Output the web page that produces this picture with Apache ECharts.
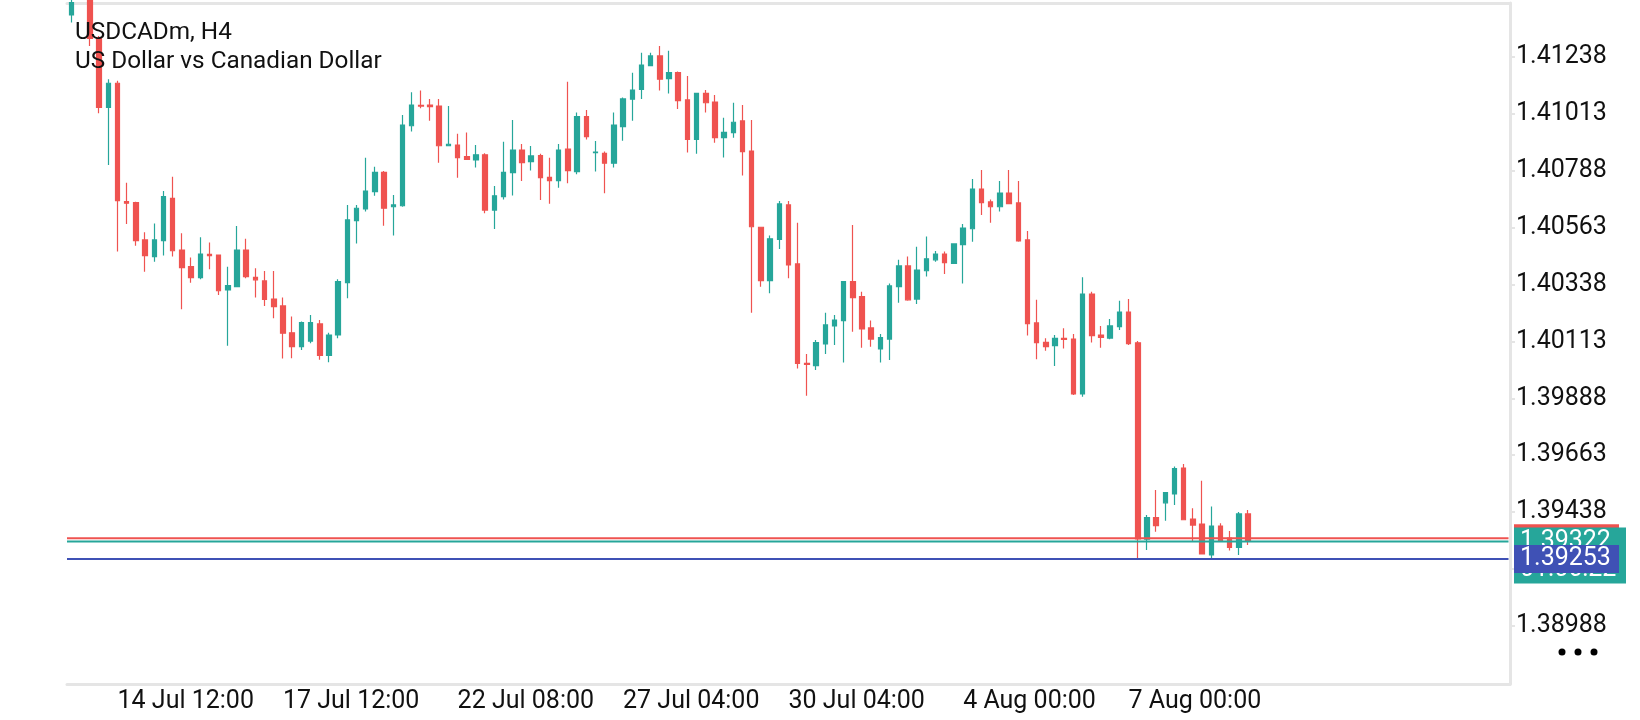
<!DOCTYPE html>
<html>
<head>
<meta charset="UTF-8">
<title>USDCADm, H4</title>
<script src="https://cdn.jsdelivr.net/npm/echarts@6.0.0/dist/echarts.min.js"></script>
<style>
    html, body {
        margin: 0;
        padding: 0;
        background: #ffffff;
    }
    #chart {
        width: 1640px;
        height: 720px;
    }
</style>
</head>
<body>
<div id="chart"></div>
<script>
// H4 candles (bar 1 sits above the visible range)
const opens = [
    1.41403, 1.41470, 1.41495, 1.41310, 1.41038, 1.41133, 1.40665, 1.40661, 1.40514, 1.40448,
    1.40511, 1.40678, 1.40474, 1.40408, 1.40365, 1.40457, 1.40454, 1.40316, 1.40329, 1.40474,
    1.40366, 1.40352, 1.40280, 1.40253, 1.40147, 1.40092, 1.40114, 1.40182, 1.40057, 1.40138,
    1.40345, 1.40590, 1.40636, 1.40705, 1.40781, 1.40645, 1.40649, 1.40965, 1.41046, 1.41047,
    1.41043, 1.40886, 1.40889, 1.40843, 1.40830, 1.40850, 1.40632, 1.40685, 1.40780, 1.40869,
    1.40823, 1.40847, 1.40761, 1.40748, 1.40873, 1.40784, 1.41001, 1.40859, 1.40856, 1.40817,
    1.40962, 1.41070, 1.41109, 1.41203, 1.41241, 1.41151, 1.41175, 1.41067, 1.40911, 1.41093,
    1.41059, 1.40918, 1.40938, 1.40984, 1.40865, 1.40564, 1.40353, 1.40516, 1.40652, 1.40419,
    1.40026, 1.40017, 1.40103, 1.40174, 1.40195, 1.40349, 1.40290, 1.40166, 1.40083, 1.40122,
    1.40329, 1.40411, 1.40280, 1.40392, 1.40435, 1.40458, 1.40421, 1.40495, 1.40558, 1.40715,
    1.40664, 1.40645, 1.40699, 1.40660, 1.40514, 1.40186, 1.40109, 1.40096, 1.40125, 1.40122,
    1.39905, 1.40300, 1.40138, 1.40126, 1.40171, 1.40229, 1.40107, 1.39331, 1.39416, 1.39475,
    1.39510, 1.39612, 1.39411, 1.39391, 1.39269, 1.39383, 1.39335, 1.39299, 1.39431
];
const highs = [
    1.41470, 1.41530, 1.41510, 1.41320, 1.41149, 1.41143, 1.40740, 1.40665, 1.40544, 1.40579,
    1.40707, 1.40764, 1.40540, 1.40444, 1.40524, 1.40504, 1.40456, 1.40408, 1.40569, 1.40518,
    1.40402, 1.40391, 1.40391, 1.40286, 1.40211, 1.40191, 1.40217, 1.40197, 1.40147, 1.40358,
    1.40652, 1.40652, 1.40839, 1.40803, 1.40786, 1.40691, 1.41008, 1.41097, 1.41104, 1.41071,
    1.41071, 1.41043, 1.40933, 1.40938, 1.40889, 1.40856, 1.40727, 1.40902, 1.40988, 1.40893,
    1.40885, 1.40854, 1.40839, 1.40893, 1.41139, 1.41017, 1.41027, 1.40905, 1.40863, 1.41017,
    1.41077, 1.41175, 1.41254, 1.41254, 1.41280, 1.41261, 1.41179, 1.41162, 1.41095, 1.41106,
    1.41087, 1.40997, 1.41056, 1.41047, 1.40988, 1.40566, 1.40531, 1.40668, 1.40668, 1.40582,
    1.40063, 1.40118, 1.40226, 1.40217, 1.40352, 1.40573, 1.40309, 1.40195, 1.40142, 1.40342,
    1.40435, 1.40448, 1.40487, 1.40527, 1.40470, 1.40468, 1.40500, 1.40577, 1.40755, 1.40790,
    1.40674, 1.40747, 1.40790, 1.40747, 1.40549, 1.40277, 1.40125, 1.40138, 1.40165, 1.40142,
    1.40366, 1.40309, 1.40174, 1.40201, 1.40273, 1.40280, 1.40114, 1.39427, 1.39526, 1.39515,
    1.39618, 1.39628, 1.39453, 1.39562, 1.39460, 1.39394, 1.39363, 1.39439, 1.39446
];
const lows = [
    1.41373, 1.41460, 1.41280, 1.41014, 1.40810, 1.40468, 1.40577, 1.40491, 1.40388, 1.40428,
    1.40452, 1.40448, 1.40240, 1.40345, 1.40358, 1.40398, 1.40296, 1.40096, 1.40327, 1.40362,
    1.40286, 1.40253, 1.40204, 1.40045, 1.40046, 1.40079, 1.40105, 1.40040, 1.40030, 1.40125,
    1.40283, 1.40500, 1.40626, 1.40688, 1.40570, 1.40531, 1.40645, 1.40942, 1.41034, 1.40985,
    1.40819, 1.40886, 1.40760, 1.40830, 1.40800, 1.40619, 1.40557, 1.40674, 1.40689, 1.40747,
    1.40788, 1.40672, 1.40657, 1.40720, 1.40738, 1.40773, 1.40911, 1.40784, 1.40698, 1.40800,
    1.40906, 1.40985, 1.41071, 1.41203, 1.41104, 1.41093, 1.41031, 1.40859, 1.40854, 1.41017,
    1.40898, 1.40840, 1.40918, 1.40768, 1.40226, 1.40329, 1.40303, 1.40478, 1.40362, 1.40006,
    1.39898, 1.40000, 1.40063, 1.40099, 1.40029, 1.40151, 1.40088, 1.40092, 1.40029, 1.40039,
    1.40266, 1.40273, 1.40261, 1.40369, 1.40428, 1.40379, 1.40419, 1.40342, 1.40507, 1.40612,
    1.40582, 1.40626, 1.40655, 1.40507, 1.40136, 1.40042, 1.40076, 1.40016, 1.40085, 1.39901,
    1.39894, 1.40108, 1.40088, 1.40121, 1.40158, 1.40099, 1.39251, 1.39288, 1.39361, 1.39404,
    1.39466, 1.39408, 1.39321, 1.39273, 1.39255, 1.39325, 1.39286, 1.39269, 1.39308
];
const closes = [
    1.41452, 1.41500, 1.41310, 1.41038, 1.41133, 1.40669, 1.40659, 1.40511, 1.40452, 1.40514,
    1.40685, 1.40471, 1.40404, 1.40365, 1.40458, 1.40452, 1.40313, 1.40333, 1.40474, 1.40369,
    1.40356, 1.40279, 1.40250, 1.40145, 1.40092, 1.40187, 1.40187, 1.40057, 1.40138, 1.40349,
    1.40593, 1.40639, 1.40707, 1.40781, 1.40639, 1.40652, 1.40968, 1.41047, 1.41043, 1.41041,
    1.40886, 1.40892, 1.40839, 1.40832, 1.40850, 1.40632, 1.40688, 1.40781, 1.40869, 1.40819,
    1.40846, 1.40760, 1.40748, 1.40869, 1.40788, 1.41001, 1.40922, 1.40861, 1.40817, 1.40968,
    1.41071, 1.41106, 1.41205, 1.41241, 1.41149, 1.41175, 1.41064, 1.40911, 1.41093, 1.41056,
    1.40918, 1.40939, 1.40979, 1.40863, 1.40566, 1.40353, 1.40518, 1.40656, 1.40415, 1.40026,
    1.40022, 1.40108, 1.40178, 1.40197, 1.40349, 1.40286, 1.40162, 1.40122, 1.40128, 1.40332,
    1.40411, 1.40277, 1.40395, 1.40439, 1.40458, 1.40424, 1.40498, 1.40561, 1.40715, 1.40661,
    1.40645, 1.40699, 1.40657, 1.40510, 1.40183, 1.40108, 1.40092, 1.40125, 1.40121, 1.39905,
    1.40300, 1.40136, 1.40129, 1.40174, 1.40229, 1.40104, 1.39332, 1.39416, 1.39385, 1.39515,
    1.39610, 1.39408, 1.39387, 1.39273, 1.39383, 1.39325, 1.39299, 1.39431, 1.39322
];

// price scale labels on the right
const priceTicks = [1.38988, 1.39213, 1.39438, 1.39663, 1.39888, 1.40113, 1.40338, 1.40563, 1.40788, 1.41013, 1.41238];

// time scale labels and the bar each one sits on
const timeLabels = ['14 Jul 12:00', '17 Jul 12:00', '22 Jul 08:00', '27 Jul 04:00', '30 Jul 04:00', '4 Aug 00:00', '7 Aug 00:00'];
const timeLabelBars = [5, 23, 42, 60, 78, 97, 115];

// empty slots right of the last bar (chart shift)
const emptyBars = 28;

// price lines
const askPrice = 1.39335;
const bidPrice = 1.39322;
const levelPrice = 1.39253;
const countdown = '01:06:22';

const UP = '#26a69a';
const DOWN = '#ef5350';
const LEVEL = '#3f51b5';
const BORDER = '#e5e5e5';
const TEXT = '#111111';
const FONT = 'Roboto, "Noto Sans", sans-serif';
const AXIS_FONT_SIZE = 25;

const categories = [];
for (let i = 0; i < opens.length + emptyBars; i++) categories.push(String(i));

const labelByBar = {};
timeLabelBars.forEach((b, i) => { labelByBar[b] = timeLabels[i]; });
const isLabelBar = (index) => labelByBar[index] !== undefined;

const candles = opens.map((o, i) => [o, closes[i], lows[i], highs[i]]);

const chart = echarts.init(document.getElementById('chart'));

const gridLeft = 67;
const gridRight = 130;

const option = {
    animation: false,
    backgroundColor: '#ffffff',
    textStyle: { fontFamily: FONT },
    title: {
        text: 'USDCADm, H4\nUS Dollar vs Canadian Dollar',
        left: 75,
        top: 19,
        padding: 0,
        textStyle: {
            fontFamily: FONT,
            fontSize: 24.3,
            fontWeight: 'normal',
            color: TEXT,
            lineHeight: 28.4
        }
    },
    grid: { left: gridLeft, right: gridRight, top: 3, bottom: 36 },
    xAxis: [
        {
            type: 'category',
            data: categories,
            boundaryGap: true,
            axisLine: { lineStyle: { color: BORDER, width: 3 } },
            axisTick: {
                alignWithLabel: true,
                interval: isLabelBar,
                length: 5,
                lineStyle: { color: BORDER, width: 2 }
            },
            axisLabel: {
                interval: isLabelBar,
                formatter: (v) => labelByBar[Number(v)] || '',
                align: 'left',
                margin: 5,
                fontFamily: FONT,
                fontSize: AXIS_FONT_SIZE,
                color: TEXT
            },
            splitLine: { show: false }
        },
        {
            type: 'category',
            data: categories,
            position: 'top',
            boundaryGap: true,
            axisLine: { lineStyle: { color: BORDER, width: 3 } },
            axisTick: { show: false },
            axisLabel: { show: false },
            splitLine: { show: false }
        }
    ],
    yAxis: {
        type: 'value',
        position: 'right',
        min: 1.387588,
        max: 1.414502,
        axisLine: { show: true, lineStyle: { color: BORDER, width: 3 } },
        axisTick: {
            show: true,
            customValues: priceTicks,
            length: 5,
            lineStyle: { color: BORDER, width: 2 }
        },
        axisLabel: {
            customValues: priceTicks,
            formatter: (v) => v.toFixed(5),
            margin: 6,
            fontFamily: FONT,
            fontSize: AXIS_FONT_SIZE,
            color: TEXT
        },
        splitLine: { show: false }
    },
    series: [{
        type: 'candlestick',
        data: candles,
        clip: true,
        barWidth: 5,
        z: 2,
        itemStyle: {
            color: UP,
            color0: DOWN,
            borderColor: UP,
            borderColor0: DOWN,
            borderWidth: 1.2
        }
    }]
};

chart.setOption(option);

// price lines and tags, placed through the y axis
const x0 = gridLeft;
const x1 = 1640 - gridRight;
const tagX = x1 + 4;
const yAsk = chart.convertToPixel({ yAxisIndex: 0 }, askPrice);
const yBid = chart.convertToPixel({ yAxisIndex: 0 }, bidPrice);
const yLevel = chart.convertToPixel({ yAxisIndex: 0 }, levelPrice);
const tagFont = '25px ' + FONT;

function priceLine(y, color) {
    return {
        type: 'line', z: 50, silent: true,
        shape: { x1: x0, y1: y, x2: x1 - 1.5, y2: y },
        style: { stroke: color, lineWidth: 2 }
    };
}

chart.setOption({
    graphic: [
        priceLine(yLevel, LEVEL),
        priceLine(yBid, UP),
        priceLine(yAsk, DOWN),
        // ask tag: only its top edge shows behind the bid tag
        { type: 'rect', z: 100, shape: { x: tagX, y: yAsk - 14, width: 105, height: 28 }, style: { fill: DOWN } },
        { type: 'rect', z: 101, shape: { x: tagX, y: yBid - 14, width: 112, height: 56 }, style: { fill: UP } },
        { type: 'text', z: 101, x: tagX + 6, y: yBid, style: { text: bidPrice.toFixed(5), fill: '#fff', font: tagFont, verticalAlign: 'middle' } },
        { type: 'text', z: 101, x: tagX + 6, y: yBid + 28, style: { text: countdown, fill: '#fff', font: tagFont, verticalAlign: 'middle' } },
        { type: 'rect', z: 102, shape: { x: tagX, y: yLevel - 14, width: 105, height: 28 }, style: { fill: LEVEL } },
        { type: 'text', z: 102, x: tagX + 6, y: yLevel, style: { text: levelPrice.toFixed(5), fill: '#fff', font: tagFont, verticalAlign: 'middle' } },
        // menu dots
        { type: 'circle', z: 100, shape: { cx: 1562, cy: 652, r: 3.5 }, style: { fill: '#000' } },
        { type: 'circle', z: 100, shape: { cx: 1578, cy: 652, r: 3.5 }, style: { fill: '#000' } },
        { type: 'circle', z: 100, shape: { cx: 1594, cy: 652, r: 3.5 }, style: { fill: '#000' } }
    ]
});

window.addEventListener('resize', () => chart.resize());
</script>
</body>
</html>
